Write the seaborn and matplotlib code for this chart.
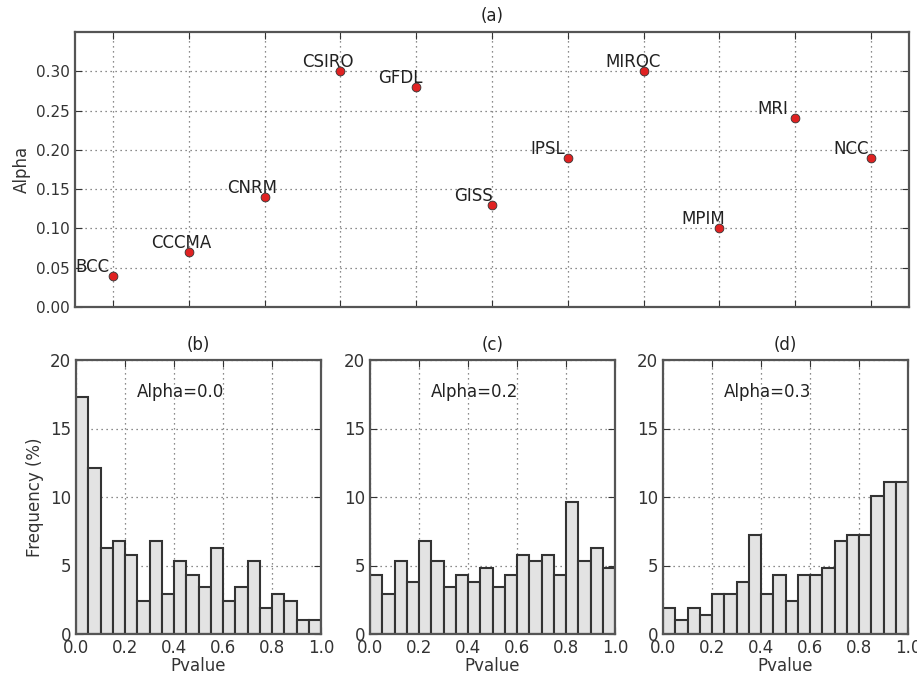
import numpy as np
import pandas as pd
import matplotlib
matplotlib.use("Agg")
import matplotlib.pyplot as plt
import seaborn as sns

# ---- data ----
models = ["BCC", "CCCMA", "CNRM", "CSIRO", "GFDL", "GISS", "IPSL", "MIROC", "MPIM", "MRI", "NCC"]
alpha_values = [0.04, 0.07, 0.14, 0.30, 0.28, 0.13, 0.19, 0.30, 0.10, 0.24, 0.19]

bin_edges = [i / 20 for i in range(21)]
freq_alpha00 = [17.3, 12.1, 6.3, 6.8, 5.8, 2.4, 6.8, 2.9, 5.3, 4.3,
                3.4, 6.3, 2.4, 3.4, 5.3, 1.9, 2.9, 2.4, 1.0, 1.0]
freq_alpha02 = [4.3, 2.9, 5.3, 3.8, 6.8, 5.3, 3.4, 4.3, 3.8, 4.8,
                3.4, 4.3, 5.8, 5.3, 5.8, 4.3, 9.6, 5.3, 6.3, 4.8]
freq_alpha03 = [1.9, 1.0, 1.9, 1.4, 2.9, 2.9, 3.8, 7.2, 2.9, 4.3,
                2.4, 4.3, 4.3, 4.8, 6.8, 7.2, 7.2, 10.1, 11.1, 11.1]
hist_titles = ["(b)", "(c)", "(d)"]
hist_notes = ["Alpha=0.0", "Alpha=0.2", "Alpha=0.3"]

# ---- style ----
sns.set_style("ticks")
plt.rcParams.update({
    "font.family": ["DejaVu Sans"],
    "axes.edgecolor": "#555555",
    "axes.linewidth": 1.6,
    "xtick.direction": "in",
    "ytick.direction": "in",
    "xtick.top": True,
    "ytick.right": True,
    "xtick.major.size": 5,
    "ytick.major.size": 5,
    "xtick.color": "#333333",
    "ytick.color": "#333333",
    "xtick.labelsize": 11,
    "ytick.labelsize": 11,
    "axes.labelcolor": "#333333",
    "text.color": "#222222",
})

W, H = 917, 675
fig = plt.figure(figsize=(W / 100, H / 100), dpi=100)

def add_axes(l, r, t, b):
    return fig.add_axes([l / W, 1 - b / H, (r - l) / W, (b - t) / H])

grid_kw = dict(color="#666666", linestyle=(0, (1, 3)), linewidth=0.9)

# ---- (a) ----
ax = add_axes(75, 909, 32, 307)
df = pd.DataFrame({"x": np.arange(1, len(models) + 1), "alpha": alpha_values, "model": models})
sns.scatterplot(data=df, x="x", y="alpha", ax=ax, color="#e02222", edgecolor="#333333",
                linewidth=0.6, s=40, zorder=3)
for xi, yi, name in zip(df["x"], df["alpha"], df["model"]):
    ax.text(xi - 0.5, yi, name, ha="left", va="bottom", fontsize=12, color="#222222")
ax.set_xlim(0.5, 11.5)
ax.set_ylim(0, 0.35)
ax.set_xticks(df["x"])
ax.set_xticklabels([])
ax.set_yticks(np.arange(0, 0.31, 0.05))
ax.set_yticklabels([f"{v:.2f}" for v in np.arange(0, 0.31, 0.05)])
ax.set_xlabel("")
ax.set_ylabel("Alpha", fontsize=12)
ax.set_title("(a)", fontsize=12, pad=8)
ax.grid(True, **grid_kw)
ax.set_axisbelow(True)

# ---- (b), (c), (d) ----
lefts = [76, 370, 663]
centers = [(bin_edges[i] + bin_edges[i + 1]) / 2 for i in range(20)]
for k, freqs in enumerate([freq_alpha00, freq_alpha02, freq_alpha03]):
    axh = add_axes(lefts[k], lefts[k] + 245, 360, 634)
    sns.histplot(x=centers, weights=freqs, bins=bin_edges, ax=axh, stat="count",
                 color="#e3e3e3", edgecolor="#333333", linewidth=1.5, alpha=1.0)
    axh.set_xlim(0, 1)
    axh.set_ylim(0, 20)
    axh.set_xticks([0, 0.2, 0.4, 0.6, 0.8, 1.0])
    axh.set_xticklabels(["0.0", "0.2", "0.4", "0.6", "0.8", "1.0"])
    axh.set_yticks([0, 5, 10, 15, 20])
    axh.tick_params(axis="both", labelsize=12)
    axh.set_xlabel("Pvalue", fontsize=12, labelpad=0)
    axh.set_ylabel("Frequency (%)" if k == 0 else "", fontsize=12)
    axh.set_title(hist_titles[k], fontsize=12, pad=7)
    axh.text(0.25, 17.0, hist_notes[k], ha="left", va="bottom", fontsize=12, color="#222222")
    axh.grid(True, **grid_kw)
    axh.set_axisbelow(True)

fig.savefig("out.png", dpi=100)
